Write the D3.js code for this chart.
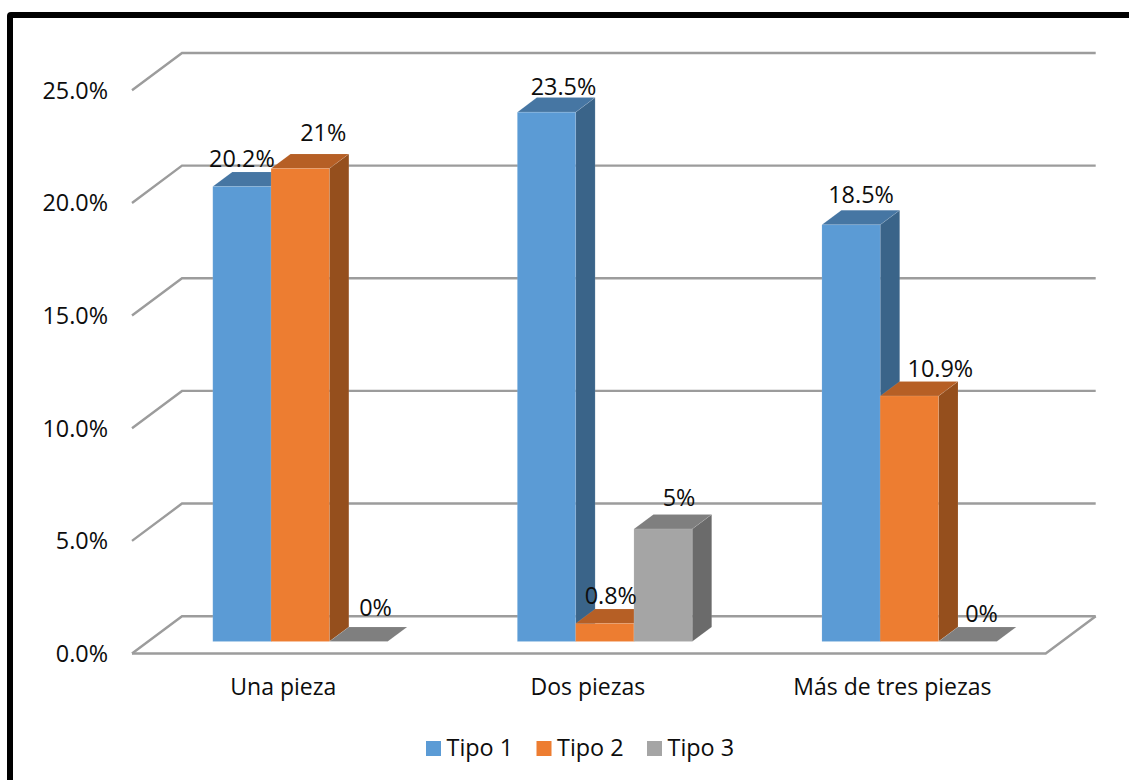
<!DOCTYPE html>
<meta charset="utf-8">
<head>
<style>
  body { margin: 0; background: #fff; }
  text { font-family: "Open Sans", sans-serif; fill: #0d0d0d; font-size: 23.4px; }
  .cat { font-size: 23px; }
</style>
</head>
<body>
<div class="chart"></div>
<script src="https://d3js.org/d3.v7.min.js" charset="utf-8"></script>
<script>
const categories = ['Una pieza', 'Dos piezas', 'Más de tres piezas'];
const seriesNames = ['Tipo 1', 'Tipo 2', 'Tipo 3'];
const tipo1 = [20.2, 23.5, 18.5];
const tipo2 = [21, 0.8, 10.9];
const tipo3 = [0, 5, 0];
const barLabels = [
  ['20.2%', '23.5%', '18.5%'],
  ['21%', '0.8%', '10.9%'],
  ['0%', '5%', '0%'],
];
const yTicks = [0, 5, 10, 15, 20, 25];
const seriesValues = [tipo1, tipo2, tipo3];

// front, top and side shades per series
const shades = [
  { front: '#5b9bd5', top: '#4676a3', side: '#3a6489' },
  { front: '#ed7d31', top: '#b65f25', side: '#954f1d' },
  { front: '#a5a5a5', top: '#7f7f7f', side: '#6b6b6b' },
];

// hand placed data labels: [dx from bar centre, height above the bar's front top]
const labelNudge = [
  [[0, 19], [17, 17], [10, 22]],
  [[23, 27], [6, 20], [31, 19]],
  [[17, 26], [16, 23], [14, 20]],
];

const width = 1129;
const height = 780;

// floor of the 3d box: front edge at depth 0, back edge at depth 1
const depthX = 50;
const depthY = -37.3;
const barDepthFront = 0.32;
const barDepthBack = 0.71;

const xScale = d3.scaleBand()
  .domain(d3.range(categories.length))
  .range([132, 1045.7]);

const xInner = d3.scaleBand()
  .domain(d3.range(seriesNames.length))
  .range([xScale.bandwidth() * 0.2127, xScale.bandwidth() * 0.7868]);

const yScale = d3.scaleLinear()
  .domain([0, 25])
  .range([653.5, 90.3]);

// projects a plot position onto the page at a given depth
const project = (x, v, depth) => [x + depthX * depth, yScale(v) + depthY * depth];
const poly = pts => pts.map(p => p.join(',')).join(' ');

const svg = d3.select('.chart')
  .append('svg')
  .attr('width', width)
  .attr('height', height)
  .style('display', 'block');

// outer frame, runs off the right and bottom of the page
svg.append('rect')
  .attr('x', 10)
  .attr('y', 15)
  .attr('width', width + 20)
  .attr('height', height + 20)
  .attr('rx', 1)
  .attr('fill', 'none')
  .attr('stroke', '#000')
  .attr('stroke-width', 6);

const grid = svg.append('g')
  .attr('fill', 'none')
  .attr('stroke', '#9c9c9c')
  .attr('stroke-width', 2.4);

// back wall and left wall gridlines
yTicks.forEach(t => {
  const front = project(132, t, 0);
  const back = project(132, t, 1);
  const backRight = project(1045.7, t, 1);
  grid.append('polyline').attr('points', poly([front, back, backRight]));
});

// floor outline
grid.append('polyline').attr('points', poly([
  project(132, 0, 0),
  project(1045.7, 0, 0),
  project(1045.7, 0, 1),
]));

const bars = svg.append('g')
  .attr('stroke', '#fff')
  .attr('stroke-opacity', 0.12)
  .attr('stroke-width', 0.8);
const labels = svg.append('g');

categories.forEach((cat, c) => {
  seriesNames.forEach((name, s) => {
    const v = seriesValues[s][c];
    const x0 = xScale(c) + xInner(s);
    const x1 = x0 + xInner.bandwidth();
    const fl = project(x0, 0, barDepthFront);
    const fr = project(x1, 0, barDepthFront);
    const ftl = project(x0, v, barDepthFront);
    const ftr = project(x1, v, barDepthFront);
    const btl = project(x0, v, barDepthBack);
    const btr = project(x1, v, barDepthBack);
    const br = project(x1, 0, barDepthBack);

    const g = bars.append('g');
    g.append('polygon').attr('points', poly([fr, ftr, btr, br])).attr('fill', shades[s].side);
    g.append('polygon').attr('points', poly([ftl, ftr, btr, btl])).attr('fill', shades[s].top);
    g.append('polygon').attr('points', poly([fl, ftl, ftr, fr])).attr('fill', shades[s].front);

    const [dx, rise] = labelNudge[s][c];
    labels.append('text')
      .attr('x', (fl[0] + fr[0]) / 2 + dx)
      .attr('y', ftr[1] - rise)
      .attr('text-anchor', 'middle')
      .text(barLabels[s][c]);
  });

  svg.append('text')
    .attr('class', 'cat')
    .attr('x', xScale(c) + xScale.bandwidth() / 2 - 1)
    .attr('y', 694.5)
    .attr('text-anchor', 'middle')
    .text(cat);
});

// value axis labels
yTicks.forEach(t => {
  svg.append('text')
    .attr('x', 108)
    .attr('y', yScale(t) + 8.5)
    .attr('text-anchor', 'end')
    .text(`${t.toFixed(1)}%`);
});

// legend
const legendX = d3.scalePoint().domain(seriesNames).range([426, 647]);
seriesNames.forEach((name, s) => {
  svg.append('rect')
    .attr('x', legendX(name))
    .attr('y', 741)
    .attr('width', 15)
    .attr('height', 15)
    .attr('fill', shades[s].front);
  svg.append('text')
    .attr('x', legendX(name) + 20.5)
    .attr('y', 756)
    .text(name);
});
</script>
</body>
